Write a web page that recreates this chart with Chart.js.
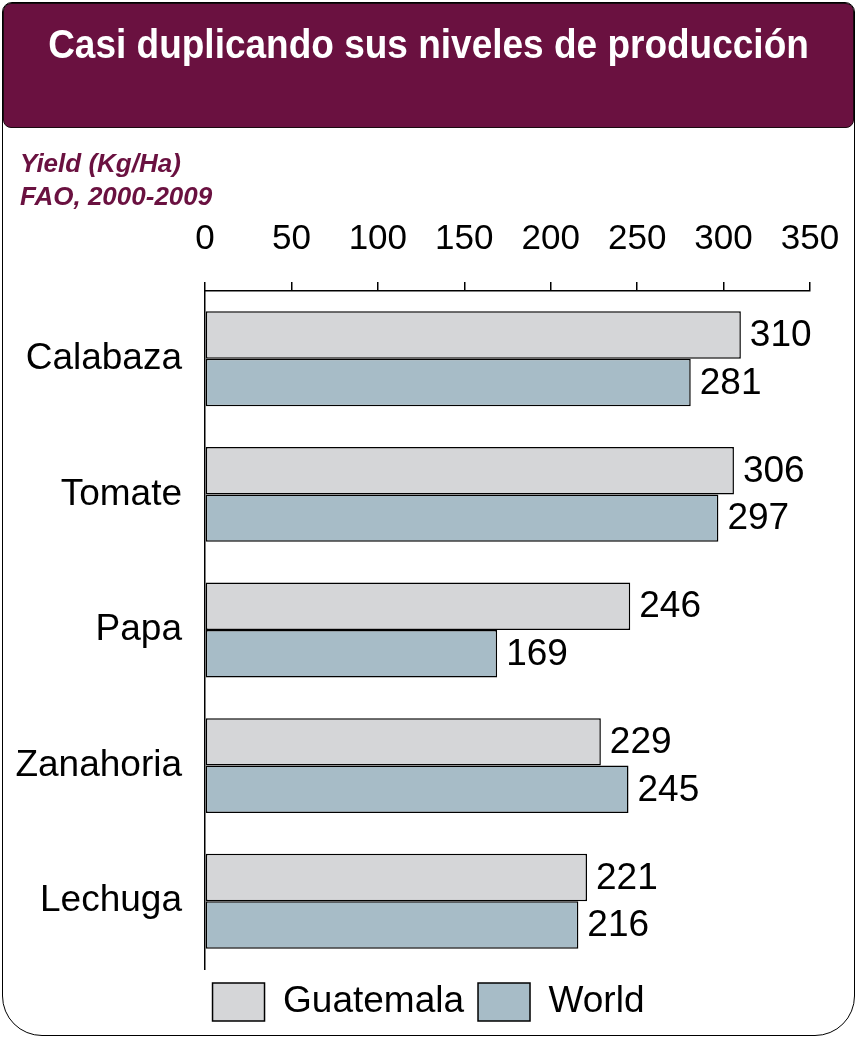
<!DOCTYPE html>
<html>
<head>
<meta charset="utf-8">
<script src="https://cdn.jsdelivr.net/npm/chart.js@4.4.1/dist/chart.umd.min.js"></script>
<style>
  html, body { margin: 0; padding: 0; background: #ffffff; }
  body { width: 857px; height: 1038px; position: relative; overflow: hidden; font-family: "Liberation Sans", Arial, sans-serif; }
  #frame { position: absolute; left: 2px; top: 2px; width: 851px; height: 1032px; border: 1.5px solid #000; border-radius: 10px 10px 40px 40px; box-sizing: content-box; }
  #header { position: absolute; left: 3px; top: 3px; width: 849px; height: 123px; background: #6A1140; border: 1.5px solid #1a0a10; border-radius: 8px; z-index: 2; }
  #title { position: absolute; left: 0; right: 0; top: 20px; text-align: center; color: #fff; font-weight: bold; font-size: 37px; line-height: 42px; transform: scaleY(1.08); }
  #sub { position: absolute; left: 20px; top: 147px; color: #6A1140; font-weight: bold; font-style: italic; font-size: 26px; line-height: 33px; z-index: 2; }
  #wrap { position: absolute; left: 0; top: 0; width: 857px; height: 1038px; }
</style>
</head>
<body>
<div id="wrap"><canvas id="c" width="857" height="1038"></canvas></div>
<div id="frame"></div>
<div id="header"><div id="title">Casi duplicando sus niveles de producción</div></div>
<div id="sub">Yield (Kg/Ha)<br>FAO, 2000-2009</div>
<script>
const categories = ["Calabaza", "Tomate", "Papa", "Zanahoria", "Lechuga"];
const guatemala = [310, 306, 246, 229, 221];
const world = [281, 297, 169, 245, 216];
const seriesNames = ["Guatemala", "World"];
const tickValues = [0, 50, 100, 150, 200, 250, 300, 350];

const FONT = "'Liberation Sans', Arial, sans-serif";

const valueLabels = {
  id: 'valueLabels',
  afterDatasetsDraw(chart) {
    const ctx = chart.ctx;
    ctx.save();
    ctx.font = "37px " + FONT;
    ctx.fillStyle = "#000";
    ctx.textAlign = "left";
    ctx.textBaseline = "middle";
    chart.data.datasets.forEach((ds, i) => {
      const meta = chart.getDatasetMeta(i);
      meta.data.forEach((el, j) => {
        ctx.fillText(String(ds.data[j]), el.x + 9, el.y + 1);
      });
    });
    ctx.restore();
  }
};

const centerLegend = {
  id: 'centerLegend',
  afterLayout(chart) {
    const lg = chart.legend;
    if (lg) { lg.left = 0; lg.right = chart.width; lg.width = chart.width; }
  }
};

new Chart(document.getElementById('c'), {
  type: 'bar',
  data: {
    labels: categories,
    datasets: [
      { label: seriesNames[0], data: guatemala, backgroundColor: '#D5D6D8', borderColor: '#000', borderWidth: 1.5, borderSkipped: false, categoryPercentage: 0.70, barPercentage: 1.0 },
      { label: seriesNames[1], data: world, backgroundColor: '#A7BCC7', borderColor: '#000', borderWidth: 1.5, borderSkipped: false, categoryPercentage: 0.70, barPercentage: 1.0 }
    ]
  },
  options: {
    indexAxis: 'y',
    responsive: false,
    animation: false,
    devicePixelRatio: 1,
    layout: { padding: { left: 0, right: 47, top: 130, bottom: 7 } },
    plugins: {
      title: { display: false },
      tooltip: { enabled: false },
      legend: {
        position: 'bottom',
        labels: { boxWidth: 52, boxHeight: 38, padding: 14, color: '#000', font: { family: FONT, size: 37 } }
      }
    },
    scales: {
      x: {
        position: 'top',
        min: 0, max: 350,
        afterBuildTicks(scale) { scale.ticks = tickValues.map(v => ({ value: v })); },
        afterFit(scale) { scale.height = 161; scale.paddingLeft = 0; scale.paddingRight = 0; },
        ticks: { color: '#000', padding: 22, font: { family: FONT, size: 35 }, maxRotation: 0, autoSkip: false },
        grid: { display: true, drawOnChartArea: false, drawTicks: true, tickLength: 9, color: '#000', lineWidth: 1.5 },
        border: { display: true, color: '#000', width: 1.5 }
      },
      y: {
        afterFit(scale) { scale.width = 205; },
        ticks: { color: '#000', padding: 23, font: { family: FONT, size: 37 } },
        grid: { display: false, drawTicks: false },
        border: { display: true, color: '#000', width: 1.5 }
      }
    }
  },
  plugins: [valueLabels, centerLegend]
});
</script>
</body>
</html>
